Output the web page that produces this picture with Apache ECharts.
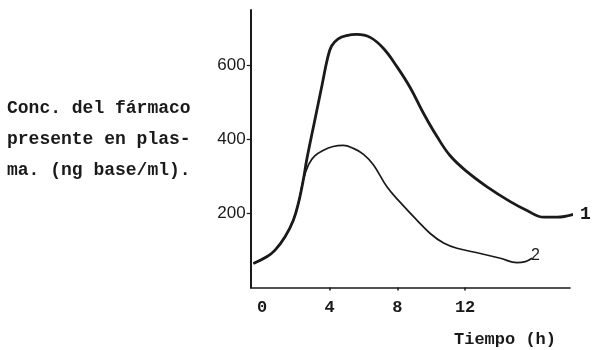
<!DOCTYPE html>
<html>
<head>
<meta charset="utf-8">
<script src="https://cdn.jsdelivr.net/npm/echarts@6/dist/echarts.min.js"></script>
<style>html,body{margin:0;padding:0;background:#fff}#c{width:593px;height:350px}</style>
</head>
<body>
<div id="c"></div>
<script>
// Curve 1: [time (h), concentration (ng base/ml)]
const curve1 = [
  [-0.51, 65], [0.28, 83], [0.77, 101], [1.36, 137], [1.85, 182], [2.15, 228],
  [2.44, 291], [2.64, 345], [3.1, 448], [3.55, 548], [3.85, 615], [4.1, 652],
  [4.5, 672], [5.0, 681], [5.6, 684], [6.39, 676], [7.18, 646], [7.97, 597], [8.76, 540],
  [9.54, 471], [10.34, 408], [11.12, 356], [12.11, 313], [13.3, 272], [14.67, 232],
  [15.66, 208], [16.64, 190], [17.44, 190], [18.52, 199]
];
// Curve 2
const curve2 = [
  [-0.51, 65], [0.28, 83], [0.77, 101], [1.36, 137], [1.85, 182], [2.15, 228],
  [2.44, 291], [2.75, 332], [3.1, 355], [3.6, 370], [4.2, 381], [4.8, 384],
  [5.4, 376], [6.0, 360], [6.59, 331], [7.38, 272], [8.17, 230], [9.15, 182],
  [9.94, 146], [10.73, 120], [11.52, 106], [12.90, 92], [14.08, 79], [15.07, 67],
  [15.56, 70], [15.96, 79]
];
const seriesNames = ['1', '2'];
const xTickLabels = [0, 4, 8, 12];
const xTicks = [4, 8, 12];
const yTickLabels = [200, 400, 600];
const yTitleLines = ['Conc. del fármaco', 'presente en plas-', 'ma. (ng base/ml).'];
const xTitle = 'Tiempo (h)';

const ink = '#1a1a1a';
const mono = '"Liberation Mono", "DejaVu Sans Mono", monospace';
const sans = '"Liberation Sans", Arial, sans-serif';

const chart = echarts.init(document.getElementById('c'), null, {renderer: 'canvas'});
chart.setOption({
  animation: false,
  backgroundColor: '#fff',
  grid: {left: 250.7, right: 23, top: 10, bottom: 62.5, containLabel: false},
  xAxis: {
    type: 'value', min: -0.67, max: 18.2,
    splitLine: {show: false},
    axisLine: {show: true, onZero: false, lineStyle: {color: ink, width: 1.6}},
    axisTick: {show: true, customValues: xTicks, inside: false, length: 3, lineStyle: {color: ink, width: 1.5}},
    axisLabel: {show: true, customValues: xTickLabels, margin: 12, color: ink,
      fontFamily: mono, fontWeight: 'bold', fontSize: 17}
  },
  yAxis: {
    type: 'value', min: 0, max: 750,
    splitLine: {show: false},
    axisLine: {show: true, onZero: false, lineStyle: {color: ink, width: 2}},
    axisTick: {show: true, customValues: yTickLabels, length: 4, lineStyle: {color: ink, width: 1.2}},
    axisLabel: {show: true, customValues: yTickLabels, margin: 5, color: ink,
      fontFamily: sans, fontSize: 17}
  },
  series: [
    {
      name: seriesNames[0], type: 'line', data: curve1, smooth: 0.4, symbol: 'none', clip: false,
      lineStyle: {color: ink, width: 2.8},
      endLabel: {show: true, formatter: seriesNames[0], color: ink, fontFamily: mono,
        fontWeight: 'bold', fontSize: 18, distance: 7}
    },
    {
      name: seriesNames[1], type: 'line', data: curve2, smooth: 0.4, symbol: 'none', clip: false,
      lineStyle: {color: ink, width: 1.7},
      endLabel: {show: true, formatter: seriesNames[1], color: ink, fontFamily: sans,
        fontSize: 16, distance: -1, offset: [0, -3]}
    }
  ],
  graphic: yTitleLines.map((t, i) => ({
    type: 'text', left: 7, top: 99 + i * 31,
    style: {text: t, fill: ink, font: 'bold 18px ' + mono}
  })).concat([{
    type: 'text', left: 454, top: 331,
    style: {text: xTitle, fill: ink, font: 'bold 17px ' + mono}
  }])
});
</script>
</body>
</html>
